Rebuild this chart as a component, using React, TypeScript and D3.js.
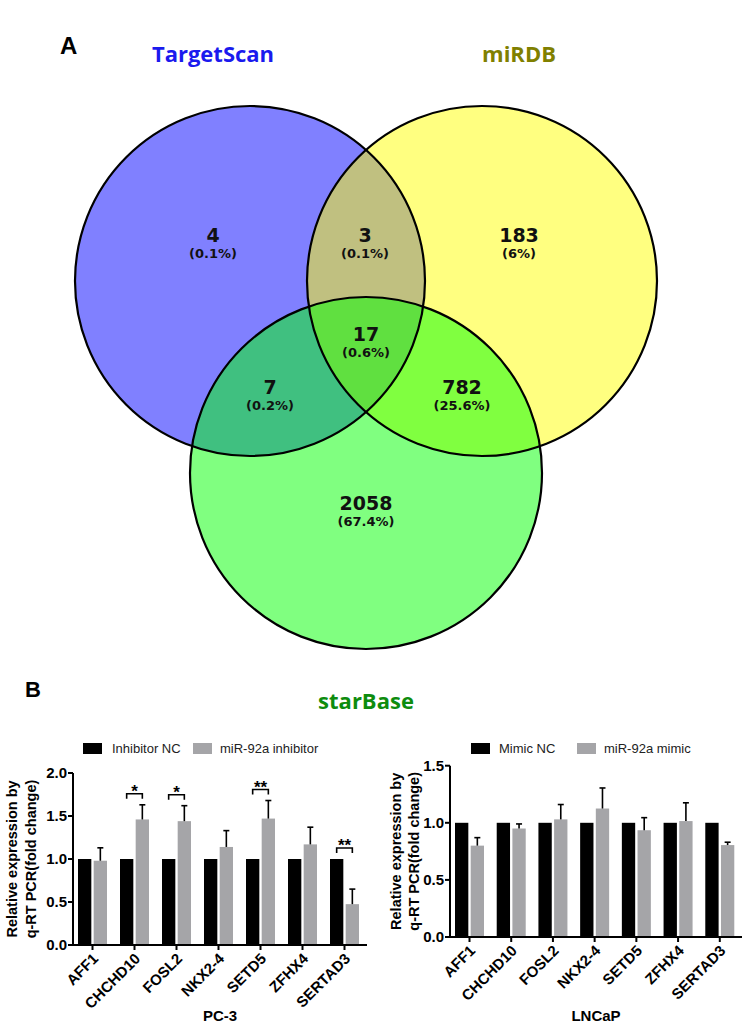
import React from "react";
import * as d3 from "d3";

// ---------- Venn data ----------
const vennSetNames = ["TargetScan", "miRDB", "starBase"];
const vennSetColors = ["#1a1aee", "#808000", "#0e8c0e"];
const vennRegions = ["TS", "MI", "SB", "TS_MI", "TS_SB", "MI_SB", "ALL"];
const vennCounts = [4, 183, 2058, 3, 7, 782, 17];
const vennPercents = ["0.1%", "6%", "67.4%", "0.1%", "0.2%", "25.6%", "0.6%"];

// ---------- Bar data ----------
const genes = ["AFF1", "CHCHD10", "FOSL2", "NKX2-4", "SETD5", "ZFHX4", "SERTAD3"];
const pc3Control = [1, 1, 1, 1, 1, 1, 1];
const pc3Inhibitor = [0.98, 1.46, 1.44, 1.14, 1.47, 1.17, 0.475];
const pc3InhibitorErr = [0.15, 0.17, 0.18, 0.19, 0.21, 0.2, 0.175];
const pc3Sig = ["", "*", "*", "", "**", "", "**"];
const pc3Ticks = [0, 0.5, 1.0, 1.5, 2.0];

const lncapControl = [1, 1, 1, 1, 1, 1, 1];
const lncapMimic = [0.8, 0.95, 1.03, 1.125, 0.935, 1.015, 0.805];
const lncapMimicErr = [0.07, 0.04, 0.13, 0.18, 0.11, 0.16, 0.025];
const lncapSig = ["", "", "", "", "", "", ""];
const lncapTicks = [0, 0.5, 1.0, 1.5];

// ---------- layout ----------
const circles = {
  TS: { cx: 250, cy: 281, r: 175, fill: "#8080ff" },
  MI: { cx: 482, cy: 281, r: 175, fill: "#ffff80" },
  SB: { cx: 366, cy: 473, r: 176, fill: "#80ff80" },
};
const regionColors: Record<string, string> = {
  TS_MI: "#c0c080",
  TS_SB: "#40c080",
  MI_SB: "#80ff40",
  ALL: "#60e040",
};
const regionLabelPos: Record<string, [number, number]> = {
  TS: [213, 235],
  MI: [519, 235],
  SB: [366, 503],
  TS_MI: [365, 235],
  TS_SB: [270, 387],
  MI_SB: [462, 387],
  ALL: [366, 334],
};

const SANS = "'Liberation Sans', Arial, sans-serif";

function Venn() {
  const c = circles;
  const circ = (k: "TS" | "MI" | "SB", fill: string) => (
    <circle cx={c[k].cx} cy={c[k].cy} r={c[k].r} fill={fill} />
  );
  return (
    <g>
      <defs>
        <clipPath id="clipTS">{circ("TS", "#000")}</clipPath>
        <clipPath id="clipMI">{circ("MI", "#000")}</clipPath>
      </defs>
      {circ("TS", c.TS.fill)}
      {circ("MI", c.MI.fill)}
      {circ("SB", c.SB.fill)}
      <g clipPath="url(#clipTS)">{circ("MI", regionColors.TS_MI)}</g>
      <g clipPath="url(#clipTS)">{circ("SB", regionColors.TS_SB)}</g>
      <g clipPath="url(#clipMI)">{circ("SB", regionColors.MI_SB)}</g>
      <g clipPath="url(#clipTS)">
        <g clipPath="url(#clipMI)">{circ("SB", regionColors.ALL)}</g>
      </g>
      {(["TS", "MI", "SB"] as const).map((k) => (
        <circle key={k} cx={c[k].cx} cy={c[k].cy} r={c[k].r} fill="none" stroke="#000" strokeWidth={2.2} />
      ))}
      {vennRegions.map((reg, i) => {
        const [x, y] = regionLabelPos[reg];
        return (
          <g key={reg} fontFamily="'DejaVu Sans', sans-serif" fontWeight="bold" fill="#111" textAnchor="middle">
            <text x={x} y={y} fontSize={19} dominantBaseline="central">{vennCounts[i]}</text>
            <text x={x} y={y + 18} fontSize={13} dominantBaseline="central">({vennPercents[i]})</text>
          </g>
        );
      })}
      <text x={213} y={62} textAnchor="middle" fontFamily="'Open Sans', sans-serif" fontWeight={700} fontSize={22} fill={vennSetColors[0]}>{vennSetNames[0]}</text>
      <text x={519} y={62} textAnchor="middle" fontFamily="'Open Sans', sans-serif" fontWeight={700} fontSize={22} fill={vennSetColors[1]}>{vennSetNames[1]}</text>
      <text x={366} y={709} textAnchor="middle" fontFamily="'Open Sans', sans-serif" fontWeight={700} fontSize={22} fill={vennSetColors[2]}>{vennSetNames[2]}</text>
    </g>
  );
}

type PanelProps = {
  axisX: number;
  rangeEnd: number;
  yBottom: number;
  yTop: number;
  yMax: number;
  ticks: number[];
  ctrl: number[];
  trt: number[];
  err: number[];
  sig: string[];
  legendLabels: [string, string];
  legendX: [number, number, number, number];
  legendY: number;
  xLabel: string;
  xLabelY: number;
  titleX: [number, number];
};

function BarPanel(p: PanelProps) {
  const x0 = d3.scaleBand<string>().domain(genes).range([p.axisX, p.rangeEnd]).padding(0);
  const x1 = d3.scaleBand<string>().domain(["ctrl", "trt"]).range([5, 34]).paddingInner(0.15);
  const y = d3.scaleLinear().domain([0, p.yMax]).range([p.yBottom, p.yTop]);
  const bw = x1.bandwidth();
  const center = (g: string) => (x0(g) as number) + (5 + 34) / 2;
  const fmt = d3.format(".1f");
  const yMid = (p.yBottom + p.yTop) / 2;
  return (
    <g fontFamily={SANS}>
      <rect x={p.legendX[0]} y={p.legendY - 5} width={19} height={11} fill="#000" />
      <text x={p.legendX[1]} y={p.legendY + 5} fontSize={13} fill="#222">{p.legendLabels[0]}</text>
      <rect x={p.legendX[2]} y={p.legendY - 5} width={19} height={11} fill="#a5a5a8" />
      <text x={p.legendX[3]} y={p.legendY + 5} fontSize={13} fill="#222">{p.legendLabels[1]}</text>

      {genes.map((g, i) => {
        const bx = (x0(g) as number) + (x1("ctrl") as number);
        const gx = (x0(g) as number) + (x1("trt") as number);
        const topErr = y(p.trt[i] + p.err[i]);
        return (
          <g key={g}>
            <rect x={bx} y={y(p.ctrl[i])} width={bw} height={y(0) - y(p.ctrl[i])} fill="#000" />
            <rect x={gx} y={y(p.trt[i])} width={bw} height={y(0) - y(p.trt[i])} fill="#a5a5a8" />
            <line x1={gx + bw / 2} x2={gx + bw / 2} y1={y(p.trt[i])} y2={topErr} stroke="#000" strokeWidth={1.6} />
            <line x1={gx + bw / 2 - 3} x2={gx + bw / 2 + 3} y1={topErr} y2={topErr} stroke="#000" strokeWidth={1.6} />
            {p.sig[i] && (() => {
              const by = y(Math.max(p.ctrl[i], p.trt[i] + p.err[i])) - 11;
              const xa = bx + bw / 2;
              const xb = gx + bw / 2;
              return (
                <g>
                  <path d={`M${xa},${by + 5}V${by}H${xb}V${by + 5}`} fill="none" stroke="#000" strokeWidth={1.6} />
                  <text x={(xa + xb) / 2} y={by + 3} textAnchor="middle" fontSize={17} fontWeight="bold">{p.sig[i]}</text>
                </g>
              );
            })()}
          </g>
        );
      })}

      <line x1={p.axisX} x2={p.axisX} y1={p.yTop} y2={p.yBottom + 1} stroke="#000" strokeWidth={2} />
      {p.ticks.map((t) => (
        <g key={t}>
          <line x1={p.axisX - 5} x2={p.axisX} y1={y(t)} y2={y(t)} stroke="#000" strokeWidth={2} />
          <text x={p.axisX - 6} y={y(t)} dy="0.36em" textAnchor="end" fontSize={15} fontWeight="bold">{fmt(t)}</text>
        </g>
      ))}
      <line x1={p.axisX - 1} x2={p.rangeEnd} y1={p.yBottom} y2={p.yBottom} stroke="#000" strokeWidth={2} />
      {genes.map((g) => (
        <g key={g}>
          <line x1={center(g)} x2={center(g)} y1={p.yBottom} y2={p.yBottom + 5} stroke="#000" strokeWidth={2} />
          <text
            transform={`translate(${center(g) + 3},${p.yBottom + 11}) rotate(-45)`}
            textAnchor="end"
            dy="0.35em"
            fontSize={15}
            fontWeight="bold"
          >
            {g}
          </text>
        </g>
      ))}
      <text x={(p.axisX + p.rangeEnd) / 2} y={p.xLabelY} textAnchor="middle" fontSize={15} fontWeight="bold">{p.xLabel}</text>
      <text transform={`translate(${p.titleX[0]},${yMid}) rotate(-90)`} textAnchor="middle" fontSize={14.5} fontWeight="bold">Relative expression by</text>
      <text transform={`translate(${p.titleX[1]},${yMid}) rotate(-90)`} textAnchor="middle" fontSize={14.5} fontWeight="bold">q-RT PCR(fold change)</text>
    </g>
  );
}

export default function App() {
  return (
    <svg width={750} height={1028} style={{ position: "absolute", left: 0, top: 0, background: "#fff" }}>
      <rect width={750} height={1028} fill="#fff" />
      <text x={60} y={54} fontFamily={SANS} fontWeight="bold" fontSize={24}>A</text>
      <text x={25} y={697} fontFamily={SANS} fontWeight="bold" fontSize={22}>B</text>
      <Venn />
      <BarPanel
        axisX={73}
        rangeEnd={367}
        yBottom={945}
        yTop={773}
        yMax={2}
        ticks={pc3Ticks}
        ctrl={pc3Control}
        trt={pc3Inhibitor}
        err={pc3InhibitorErr}
        sig={pc3Sig}
        legendLabels={["Inhibitor NC", "miR-92a inhibitor"]}
        legendX={[83, 112, 193, 220]}
        legendY={748}
        xLabel="PC-3"
        xLabelY={1021}
        titleX={[17, 36]}
      />
      <BarPanel
        axisX={450}
        rangeEnd={742}
        yBottom={937}
        yTop={765.7}
        yMax={1.5}
        ticks={lncapTicks}
        ctrl={lncapControl}
        trt={lncapMimic}
        err={lncapMimicErr}
        sig={lncapSig}
        legendLabels={["Mimic NC", "miR-92a mimic"]}
        legendX={[471, 499, 577, 604]}
        legendY={748}
        xLabel="LNCaP"
        xLabelY={1021}
        titleX={[401, 419]}
      />
    </svg>
  );
}
